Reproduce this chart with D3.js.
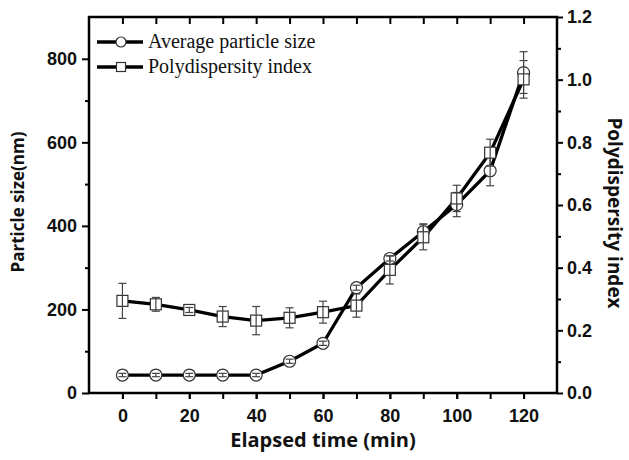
<!DOCTYPE html>
<html>
<head>
<meta charset="utf-8">
<script src="https://cdn.jsdelivr.net/npm/d3@7"></script>
<style>
  body { margin: 0; background: #fff; }
  svg { display: block; }
</style>
</head>
<body>
<div id="chart"></div>
<script>
// values
const times = [0, 10, 20, 30, 40, 50, 60, 70, 80, 90, 100, 110, 120];
const sizeNm = [43, 43, 43, 43, 43, 76, 119, 252, 322, 386, 451, 532, 767];
const sizeErr = [4, 4, 4, 4, 4, 5, 5, 6, 6, 19, 29, 36, 50];
const pdi = [0.294, 0.283, 0.265, 0.244, 0.231, 0.240, 0.258, 0.279, 0.393, 0.497, 0.621, 0.767, 1.001];
const pdiErr = [0.056, 0.022, 0.008, 0.032, 0.045, 0.032, 0.035, 0.037, 0.045, 0.040, 0.042, 0.043, 0.060];
const xTicks = [0, 20, 40, 60, 80, 100, 120];
const sizeTicks = [0, 200, 400, 600, 800];
const pdiTicks = [0, 0.2, 0.4, 0.6, 0.8, 1.0, 1.2];
const seriesNames = ['Average particle size', 'Polydispersity index'];

const W = 629, H = 460;
const margin = {top: 17, right: 72, bottom: 67, left: 89};
const width = W - margin.left - margin.right;
const height = H - margin.top - margin.bottom;

const svg = d3.select('#chart').append('svg').attr('width', W).attr('height', H);
const g = svg.append('g').attr('transform', `translate(${margin.left},${margin.top})`);

const x = d3.scaleLinear().domain([-10, 130]).range([0, width]);
const yL = d3.scaleLinear().domain([0, 900]).range([height, 0]);
const yR = d3.scaleLinear().domain([0, 1.2]).range([height, 0]);

const tickFont = g => g.selectAll('text')
  .attr('font-family', '"Liberation Sans", Arial, sans-serif')
  .attr('font-weight', 'bold').attr('font-size', '18px').attr('fill', '#111');
const noDomain = g => g.select('.domain').remove();

// minor ticks
const minorX = d3.range(0, 121, 10);
g.append('g').attr('transform', `translate(0,${height})`)
  .call(d3.axisBottom(x).tickValues(minorX).tickSize(6).tickFormat(''))
  .call(noDomain).selectAll('line').attr('stroke', '#000').attr('stroke-width', 2);
g.append('g')
  .call(d3.axisBottom(x).tickValues(minorX).tickSize(7).tickFormat(''))
  .call(noDomain).selectAll('line').attr('stroke', '#000').attr('stroke-width', 2);
g.append('g')
  .call(d3.axisLeft(yL).tickValues([100, 300, 500, 700]).tickSize(4).tickFormat(''))
  .call(noDomain).selectAll('line').attr('stroke', '#000').attr('stroke-width', 2);
g.append('g').attr('transform', `translate(${width},0)`)
  .call(d3.axisRight(yR).tickValues([0.1, 0.3, 0.5, 0.7, 0.9, 1.1]).tickSize(4).tickFormat(''))
  .call(noDomain).selectAll('line').attr('stroke', '#000').attr('stroke-width', 2);

// major axes
const xAxis = g.append('g').attr('transform', `translate(0,${height})`)
  .call(d3.axisBottom(x).tickValues(xTicks).tickSize(6).tickPadding(10).tickFormat(d3.format('d')))
  .call(noDomain).call(tickFont);
const lAxis = g.append('g')
  .call(d3.axisLeft(yL).tickValues(sizeTicks).tickSize(7).tickPadding(5).tickFormat(d3.format('d')))
  .call(noDomain).call(tickFont);
const rAxis = g.append('g').attr('transform', `translate(${width},0)`)
  .call(d3.axisRight(yR).tickValues(pdiTicks).tickSize(6).tickPadding(4).tickFormat(d3.format('.1f')))
  .call(noDomain).call(tickFont);
[xAxis, lAxis, rAxis].forEach(a => a.selectAll('line').attr('stroke', '#000').attr('stroke-width', 2));

// frame
g.append('rect').attr('width', width).attr('height', height)
  .attr('fill', 'none').attr('stroke', '#000').attr('stroke-width', 2.5);

// axis titles
const titleFont = s => s.attr('font-family', '"Open Sans", sans-serif')
  .attr('font-weight', 'bold').attr('fill', '#111');
svg.append('text').attr('x', margin.left + width / 2).attr('y', 447)
  .attr('text-anchor', 'middle').attr('font-size', '20px').call(titleFont)
  .text('Elapsed time (min)');
svg.append('text').attr('transform', `translate(24,${margin.top + height / 2 - 3}) rotate(-90)`)
  .attr('text-anchor', 'middle').attr('font-size', '17px').call(titleFont)
  .text('Particle size(nm)');
svg.append('text').attr('transform', `translate(608,${margin.top + height / 2 + 8}) rotate(90)`)
  .attr('text-anchor', 'middle').attr('font-size', '19px').call(titleFont)
  .text('Polydispersity index');

// series
const sizeData = times.map((t, i) => ({t, v: sizeNm[i], e: sizeErr[i]}));
const pdiData = times.map((t, i) => ({t, v: pdi[i], e: pdiErr[i]}));

const lineSize = d3.line().x(d => x(d.t)).y(d => yL(d.v));
const linePdi = d3.line().x(d => x(d.t)).y(d => yR(d.v));
g.append('path').datum(sizeData).attr('fill', 'none').attr('stroke', '#000')
  .attr('stroke-width', 3.3).attr('d', lineSize);
g.append('path').datum(pdiData).attr('fill', 'none').attr('stroke', '#000')
  .attr('stroke-width', 3.3).attr('d', linePdi);

function errorBars(data, y) {
  const eb = g.append('g').attr('stroke', '#444').attr('stroke-width', 1.2);
  data.forEach(d => {
    const cx = x(d.t), top = y(d.v + d.e), bot = y(d.v - d.e);
    eb.append('line').attr('x1', cx).attr('x2', cx).attr('y1', top).attr('y2', bot);
    eb.append('line').attr('x1', cx - 4).attr('x2', cx + 4).attr('y1', top).attr('y2', top);
    eb.append('line').attr('x1', cx - 4).attr('x2', cx + 4).attr('y1', bot).attr('y2', bot);
  });
}

g.selectAll('.circ').data(sizeData).enter().append('circle')
  .attr('cx', d => x(d.t)).attr('cy', d => yL(d.v)).attr('r', 6)
  .attr('fill', '#fff').attr('stroke', '#333').attr('stroke-width', 1.2);
errorBars(sizeData, yL);
g.selectAll('.sq').data(pdiData).enter().append('rect')
  .attr('x', d => x(d.t) - 5.5).attr('y', d => yR(d.v) - 5.5)
  .attr('width', 11).attr('height', 11)
  .attr('fill', '#fff').attr('stroke', '#333').attr('stroke-width', 1.2);
errorBars(pdiData, yR);

// legend
const legend = svg.append('g');
seriesNames.forEach((name, i) => {
  const ly = 42 + i * 25;
  legend.append('line').attr('x1', 97).attr('x2', 143).attr('y1', ly).attr('y2', ly)
    .attr('stroke', '#000').attr('stroke-width', 3.3);
  if (i === 0) {
    legend.append('circle').attr('cx', 121).attr('cy', ly).attr('r', 5)
      .attr('fill', '#fff').attr('stroke', '#333').attr('stroke-width', 1.2);
  } else {
    legend.append('rect').attr('x', 116.5).attr('y', ly - 4.5).attr('width', 9).attr('height', 9)
      .attr('fill', '#fff').attr('stroke', '#333').attr('stroke-width', 1.2);
  }
  legend.append('text').attr('x', 148).attr('y', ly + 6)
    .attr('font-family', '"Liberation Serif", "Times New Roman", serif')
    .attr('font-size', '20px').attr('fill', '#111').text(name);
});
</script>
</body>
</html>
